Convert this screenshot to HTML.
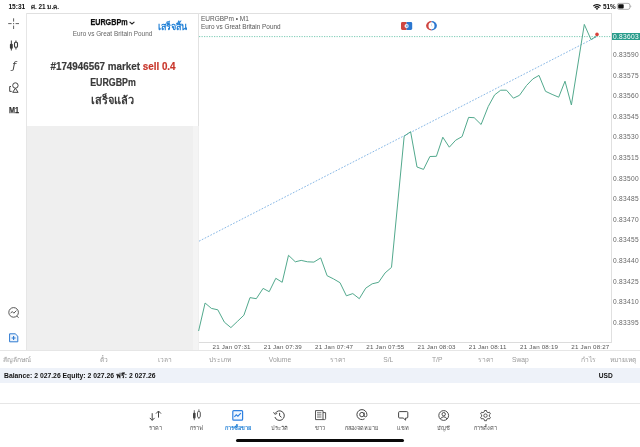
<!DOCTYPE html>
<html lang="th">
<head>
<meta charset="utf-8">
<title>MetaTrader 5</title>
<style>
html,body{margin:0;padding:0;}
body{width:640px;height:447px;position:relative;overflow:hidden;background:#fff;font-family:"Liberation Sans","Noto Sans CJK SC",sans-serif;color:#333;}
.a{position:absolute;white-space:nowrap;line-height:1;}
.c{transform-origin:50% 50%;text-align:center;}
.t65{font-size:6.5px;}
.hdr{font-size:6.7px;color:#9a9a9a;top:357.1px;}
.ax{font-size:6.6px;letter-spacing:.3px;color:#666;left:613px;margin-top:.4px;}
.tx{font-size:6.2px;letter-spacing:.2px;color:#555;top:344px;}
.tab{font-size:5.6px;color:#4a4a4a;top:425.7px;width:60px;text-align:center;}
.th{display:inline-block;overflow:hidden;vertical-align:top;padding:3px 0 2px;margin:-3px 0 -2px;white-space:nowrap;}
svg{position:absolute;overflow:visible;}
</style>
</head>
<body>
<!-- status bar -->
<div class="a" style="left:8.4px;top:4.2px;font-size:6.6px;font-weight:bold;color:#111;">15:31</div>
<div class="a" style="left:31px;top:4.2px;font-size:6.4px;font-weight:bold;color:#111;"><span class="th" style="max-width:29px">ศ. 21 ม.ค.</span></div>
<div class="a" style="left:603px;top:4.2px;font-size:6.4px;font-weight:bold;color:#111;">51%</div>
<svg style="left:593px;top:3.5px" width="8" height="6" viewBox="0 0 8 6"><path d="M0.3 2.1 A5.2 5.2 0 0 1 7.7 2.1" fill="none" stroke="#111" stroke-width="1.3"/><path d="M1.7 3.7 A3.2 3.2 0 0 1 6.3 3.7" fill="none" stroke="#111" stroke-width="1.3"/><path d="M4 6 L2.8 4.7 A1.7 1.7 0 0 1 5.2 4.7 Z" fill="#111"/></svg>
<svg style="left:617.2px;top:3.3px" width="15" height="7" viewBox="0 0 15 7"><rect x="0.35" y="0.35" width="12.5" height="6" rx="1.8" fill="none" stroke="#8e8e8e" stroke-width="0.7"/><rect x="1.2" y="1.2" width="5.5" height="4.3" rx="0.9" fill="#111"/><path d="M13.5 2.2 A1.25 1.25 0 0 1 13.5 4.5 Z" fill="#8e8e8e"/></svg>

<!-- frame lines -->
<div class="a" style="left:26.5px;top:13px;width:585px;height:1px;background:#e0e0e0;"></div>
<div class="a" style="left:26.3px;top:13px;width:1px;height:337.5px;background:#e6e6e6;"></div>
<div class="a" style="left:198.3px;top:13px;width:1px;height:337.5px;background:#e2e2e2;"></div>
<div class="a" style="left:611px;top:13px;width:1px;height:330px;background:#e0e0e0;"></div>
<!-- grey panel -->
<div class="a" style="left:27px;top:126px;width:171.5px;height:224.2px;background:#efefef;"></div>
<div class="a" style="left:193px;top:126px;width:5.3px;height:224.2px;background:#f4f4f4;"></div>
<div class="a" style="left:0;top:350.2px;width:640px;height:1px;background:#e6e6e6;"></div>
<div class="a" style="left:199px;top:342.4px;width:412px;height:1px;background:#dcdcdc;"></div>

<!-- sidebar icons -->
<svg style="left:8px;top:18px" width="12" height="12" viewBox="0 0 12 12" fill="none" stroke="#606060" stroke-width="1"><path d="M5.6 0.3V3.6M5.6 7.6V11M0.2 5.6H3.6M7.6 5.6H11M5.6 5V6.2"/></svg>
<svg style="left:9px;top:39.5px" width="10" height="11" viewBox="0 0 10 11"><path d="M2.35 0.5V10.5M6.95 0.5V9.5" stroke="#3a3a3a" stroke-width="1"/><rect x="0.9" y="3.8" width="2.9" height="4.9" rx="1" fill="#3a3a3a"/><rect x="5.5" y="2.2" width="3" height="5.1" rx="1" fill="#fff" stroke="#3a3a3a" stroke-width="1.1"/></svg>
<div class="a" style="left:12.2px;top:60.3px;font-size:11px;font-style:italic;font-family:'DejaVu Sans','Liberation Sans',sans-serif;color:#444;">ƒ</div>
<svg style="left:9px;top:82px" width="11" height="11" viewBox="0 0 11 11" fill="none" stroke="#444" stroke-width="1"><circle cx="6.4" cy="3.5" r="2.7"/><path d="M6.4 6.3L9.1 10.3H3.7Z" stroke-linejoin="round"/><path d="M2 4.5H0.7V9.4H2.7"/></svg>
<div class="a" style="left:8.8px;top:106px;font-size:9px;font-weight:bold;color:#333;-webkit-text-stroke:.25px #333;transform:scaleX(.8);transform-origin:0 50%;">M1</div>
<svg style="left:8px;top:306.5px" width="12" height="12" viewBox="0 0 12 12" fill="none" stroke="#444" stroke-width="0.9"><circle cx="5.6" cy="5.4" r="4.8"/><path d="M2.6 6L4.4 4.6L5.8 6.2L8.4 3.6"/><path d="M8.8 9L10.6 10.8"/></svg>
<svg style="left:9px;top:333px" width="10" height="10" viewBox="0 0 10 10" fill="none" stroke="#2e7ad1" stroke-width="1"><path d="M0.6 0.8H6.2L8.8 3.2V8.8H0.6Z" fill="#eef5fd"/><path d="M4.6 3V7M2.6 5H6.6" stroke-width="1.1"/></svg>

<!-- panel header -->
<div class="a c" style="left:59.2px;top:18.2px;width:100px;font-size:9px;font-weight:bold;color:#111;-webkit-text-stroke:.25px #111;transform:scaleX(.8);">EURGBPm</div>
<svg style="left:129.3px;top:21.3px" width="6" height="4" viewBox="0 0 6 4" fill="none" stroke="#222" stroke-width="1.1"><path d="M0.6 0.8L3 3L5.4 0.8"/></svg>
<div class="a c" style="left:62.5px;top:30.9px;width:100px;font-size:6.4px;color:#666;">Euro vs Great Britain Pound</div>
<div class="a c" style="left:142.9px;top:23.2px;width:60px;font-size:9px;font-weight:bold;color:#1f7fd6;"><span class="th" style="max-width:29.5px">เสร็จสิ้น</span></div>

<!-- panel message -->
<div class="a c" style="left:12.5px;top:61.1px;width:200px;font-size:11.2px;font-weight:bold;color:#3a3a3a;-webkit-text-stroke:.2px;transform:scaleX(.878);">#174946567 market <span style="color:#c8362b">sell 0.4</span></div>
<div class="a c" style="left:12.5px;top:77px;width:200px;font-size:11.2px;font-weight:bold;color:#3a3a3a;-webkit-text-stroke:.2px;transform:scaleX(.79);">EURGBPm</div>
<div class="a c" style="left:12.5px;top:94.6px;width:200px;font-size:11px;font-weight:bold;color:#3a3a3a;"><span class="th" style="max-width:43.5px">เสร็จแล้ว</span></div>

<!-- chart header -->
<div class="a" style="left:201px;top:16.4px;font-size:6.5px;color:#555;">EURGBPm • M1</div>
<div class="a" style="left:201px;top:24.3px;font-size:6.4px;color:#555;">Euro vs Great Britain Pound</div>
<svg style="left:400.7px;top:21.9px" width="12" height="9" viewBox="0 0 12 9"><path d="M1.4 0H5.6V8H1.4A1.4 1.4 0 0 1 0 6.6V1.4A1.4 1.4 0 0 1 1.4 0Z" fill="#cf4540"/><path d="M5.6 0H9.8A1.4 1.4 0 0 1 11.2 1.4V6.6A1.4 1.4 0 0 1 9.8 8H5.6Z" fill="#2b77d0"/><circle cx="5.6" cy="4" r="2.1" fill="#eef0f6"/><circle cx="5.9" cy="4" r="1" fill="#7fa8dc"/></svg>
<svg style="left:426.2px;top:21.1px" width="12" height="10" viewBox="0 0 12 10"><path d="M5.5 0A5.4 4.75 0 0 0 5.5 9.5Z" fill="#cf4540"/><path d="M5.5 0A5.4 4.75 0 0 1 5.5 9.5Z" fill="#2b77d0"/><ellipse cx="5.5" cy="4.75" rx="3" ry="3.6" fill="#fff"/><path d="M5.5 2.8V5L6.5 5.9" fill="none" stroke="#b9c9e2" stroke-width="0.6"/></svg>

<!-- chart -->
<svg style="left:0;top:0" width="640" height="447" viewBox="0 0 640 447" fill="none">
<line x1="199" y1="36.6" x2="611" y2="36.6" stroke="#5cbfa3" stroke-width="0.8" stroke-dasharray="1.25 1.25"/>
<line x1="199" y1="241.2" x2="596.5" y2="36.9" stroke="#5f9fdc" stroke-width="0.75" stroke-dasharray="1.7 1.5"/>
<polyline stroke="#52a98d" stroke-width="1" stroke-linejoin="round" points="198.6,331 205.1,303 211.4,308.4 217.8,309.8 224.4,322.2 230.9,327.6 237.3,321.5 243.9,315.2 250,297.6 256.3,298.7 263.1,288.4 269.2,291.7 275.8,278.3 282.2,282.3 288.5,255.3 295.3,261.8 301.2,260.4 307.5,261.8 313.9,262.1 320.7,257.9 327.1,275.7 333.5,278.9 340,282.7 346.4,295.8 352.8,293.6 359.3,298.7 365.7,288.2 372.2,283.8 378.6,282.3 385.1,272.9 391.5,267.4 404.2,136.2 410.6,131.7 417,167 423.5,169.4 429.9,156.5 436.4,156.3 442.8,137.2 449.3,147.2 455.7,140.2 462.1,136.6 468.6,117.4 474.2,117.7 481.1,124.5 488.2,106.6 494.6,94.9 500.7,90.2 506.5,90.2 513.4,98.2 519.5,95.3 526.5,85.5 532.9,78.9 539,75.4 545.5,91.3 552.1,94.4 558.7,97.2 565,81.2 571.4,105 584.3,24.4 591,39.6 596.3,36.3"/>
<circle cx="597" cy="34.4" r="1.8" fill="#d8403a"/>
</svg>
<div class="a" style="left:612px;top:32.6px;width:28px;height:7.2px;background:#2a9d8c;"></div>
<div class="a ax" style="top:33.4px;color:#fff;">0.83603</div>
<div class="a ax" style="top:51.7px;">0.83590</div>
<div class="a ax" style="top:72.7px;">0.83575</div>
<div class="a ax" style="top:92.7px;">0.83560</div>
<div class="a ax" style="top:113.7px;">0.83545</div>
<div class="a ax" style="top:133.7px;">0.83530</div>
<div class="a ax" style="top:154.7px;">0.83515</div>
<div class="a ax" style="top:175.7px;">0.83500</div>
<div class="a ax" style="top:195.7px;">0.83485</div>
<div class="a ax" style="top:216.7px;">0.83470</div>
<div class="a ax" style="top:236.7px;">0.83455</div>
<div class="a ax" style="top:257.7px;">0.83440</div>
<div class="a ax" style="top:278.7px;">0.83425</div>
<div class="a ax" style="top:298.7px;">0.83410</div>
<div class="a ax" style="top:319.7px;">0.83395</div>

<div class="a tx" style="left:212.5px;">21 Jan 07:31</div>
<div class="a tx" style="left:263.8px;">21 Jan 07:39</div>
<div class="a tx" style="left:315px;">21 Jan 07:47</div>
<div class="a tx" style="left:366.3px;">21 Jan 07:55</div>
<div class="a tx" style="left:417.5px;">21 Jan 08:03</div>
<div class="a tx" style="left:468.8px;">21 Jan 08:11</div>
<div class="a tx" style="left:520px;">21 Jan 08:19</div>
<div class="a tx" style="left:571.3px;">21 Jan 08:27</div>

<!-- table header -->
<div class="a hdr" style="left:2.5px;"><span class="th" style="max-width:29.5px">สัญลักษณ์</span></div>
<div class="a hdr" style="left:100px;"><span class="th" style="max-width:9.5px">ตั๋ว</span></div>
<div class="a hdr" style="left:158px;"><span class="th" style="max-width:15px">เวลา</span></div>
<div class="a hdr" style="left:208.6px;"><span class="th" style="max-width:24px">ประเภท</span></div>
<div class="a hdr" style="left:268.8px;">Volume</div>
<div class="a hdr" style="left:330px;"><span class="th" style="max-width:15px">ราคา</span></div>
<div class="a hdr" style="left:383.2px;">S/L</div>
<div class="a hdr" style="left:432px;">T/P</div>
<div class="a hdr" style="left:478.4px;"><span class="th" style="max-width:15px">ราคา</span></div>
<div class="a hdr" style="left:512px;">Swap</div>
<div class="a hdr" style="left:581px;"><span class="th" style="max-width:14.5px">กำไร</span></div>
<div class="a hdr" style="left:609.8px;"><span class="th" style="max-width:29px">หมายเหตุ</span></div>

<!-- balance band -->
<div class="a" style="left:0;top:367.8px;width:640px;height:15.5px;background:#eef2f9;"></div>
<div class="a" style="left:4px;top:372.6px;font-size:6.8px;font-weight:bold;color:#111;">Balance: 2 027.26 Equity: 2 027.26 ฟรี: 2 027.26</div>
<div class="a" style="left:598.8px;top:372.6px;font-size:6.6px;font-weight:bold;color:#111;">USD</div>

<!-- tab bar -->
<div class="a" style="left:0;top:403.4px;width:640px;height:1px;background:#e6e6e6;"></div>
<div class="a tab" style="left:125.5px;"><span class="th" style="max-width:14px">ราคา</span></div>
<div class="a tab" style="left:166.5px;"><span class="th" style="max-width:14px">กราฟ</span></div>
<div class="a tab" style="left:208px;color:#1f7fd6;font-weight:bold;"><span class="th" style="max-width:27px">การซื้อขาย</span></div>
<div class="a tab" style="left:249px;"><span class="th" style="max-width:17px">ประวัติ</span></div>
<div class="a tab" style="left:290px;"><span class="th" style="max-width:11px">ข่าว</span></div>
<div class="a tab" style="left:331px;"><span class="th" style="max-width:35px">กล่องจดหมาย</span></div>
<div class="a tab" style="left:372.5px;"><span class="th" style="max-width:12px">แชท</span></div>
<div class="a tab" style="left:413px;"><span class="th" style="max-width:13.5px">บัญชี</span></div>
<div class="a tab" style="left:455px;"><span class="th" style="max-width:24px">การตั้งค่า</span></div>

<!-- tab icons -->
<svg style="left:149px;top:409.5px" width="14" height="12" viewBox="0 0 14 12" fill="none" stroke="#444" stroke-width="1"><path d="M3.2 3.2V10.2M0.8 7.9L3.2 10.4L5.6 7.9M9.5 7.6V1.2M7 3.6L9.5 1L12 3.6"/></svg>
<svg style="left:192px;top:409px" width="10" height="12" viewBox="0 0 10 12"><path d="M2.3 1.2V11.2M6.9 0.3V10" stroke="#444" stroke-width="0.8"/><rect x="1" y="3.7" width="2.6" height="5.7" rx="0.9" fill="#444"/><rect x="5.5" y="2.6" width="2.8" height="5.8" rx="0.9" fill="#fff" stroke="#444" stroke-width="0.9"/></svg>
<svg style="left:232px;top:409.8px" width="12" height="11" viewBox="0 0 12 11" fill="none" stroke="#2e80e0"><rect x="0.8" y="0.7" width="9.8" height="9.4" rx="0.9" fill="#f0f6fe" stroke-width="1.2"/><path d="M2.4 6.9L4.3 4.7L5.9 6.1L8.9 3.1" stroke-width="1.15"/></svg>
<svg style="left:273px;top:409.8px" width="13" height="12" viewBox="0 0 13 12" fill="none" stroke="#444" stroke-width="1"><path d="M2.3 3.3A4.8 4.8 0 1 1 1.9 7"/><path d="M0.5 2.2L1.9 4.3L4.2 3.4" stroke-width="0.9" stroke-linejoin="round"/><path d="M6.6 2.9V5.7L8.5 7.3" stroke-width="1"/></svg>
<svg style="left:315px;top:410.2px" width="12" height="11" viewBox="0 0 12 11" fill="none" stroke="#444" stroke-width="0.9"><path d="M0.5 0.6H8V9.6H0.5Z"/><path d="M8 2.6H10.6V8.6A1 1 0 0 1 9.6 9.6H8"/><path d="M2 2.8H6.4M2 4.9H6.4M2 7H6.4" stroke-width="0.8"/></svg>
<svg style="left:355.6px;top:409.3px" width="12" height="12" viewBox="0 0 12 12" fill="none" stroke="#444" stroke-width="1"><circle cx="5.9" cy="5.6" r="2.2"/><path d="M8.1 3.5V6.4A1.4 1.4 0 0 0 10.9 6.4V5.6A5 5 0 1 0 8.6 9.8"/></svg>
<svg style="left:397.6px;top:411.2px" width="11" height="10" viewBox="0 0 11 10" fill="none" stroke="#444" stroke-width="1"><path d="M1.6 0.6H8.8A1 1 0 0 1 9.8 1.6V6A1 1 0 0 1 8.8 7H7.6V9.2L5.2 7H1.6A1 1 0 0 1 0.6 6V1.6A1 1 0 0 1 1.6 0.6Z" stroke-linejoin="round"/></svg>
<svg style="left:438px;top:409.8px" width="12" height="12" viewBox="0 0 12 12" fill="none" stroke="#444" stroke-width="0.95"><circle cx="5.7" cy="5.5" r="4.9"/><circle cx="5.7" cy="4.2" r="1.7"/><path d="M2.4 9A3.6 3.6 0 0 1 9 9"/></svg>
<svg style="left:479.5px;top:409.7px" width="12" height="12" viewBox="0 0 12 12" fill="none" stroke="#444" stroke-width="0.9" stroke-linejoin="round"><path d="M4.23 1.91L4.51 0.50L6.49 0.50L6.77 1.91L8.06 2.66L9.42 2.19L10.42 3.91L9.33 4.86L9.33 6.34L10.42 7.29L9.42 9.01L8.06 8.54L6.77 9.29L6.49 10.70L4.51 10.70L4.23 9.29L2.94 8.54L1.58 9.01L0.58 7.29L1.67 6.34L1.67 4.86L0.58 3.91L1.58 2.19L2.94 2.66Z"/><circle cx="5.5" cy="5.6" r="1.7"/></svg>
<div class="a" style="left:235.6px;top:439.3px;width:168.8px;height:3.2px;border-radius:1.6px;background:#0a0a0a;"></div>
</body>
</html>
